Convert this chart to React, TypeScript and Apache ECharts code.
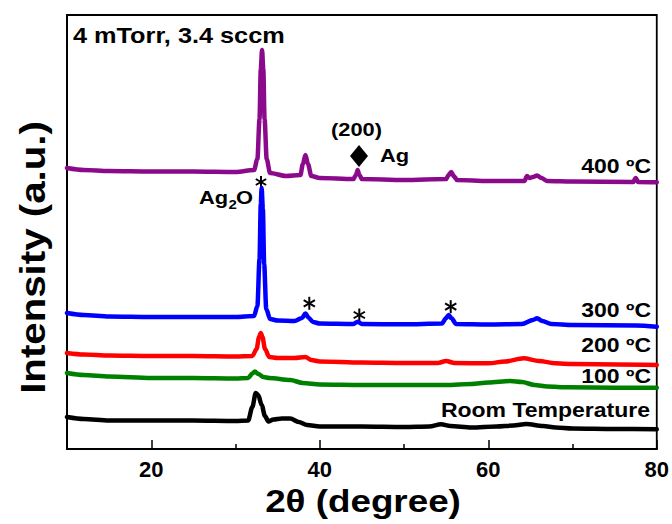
import React, { useEffect, useRef } from "react";
import * as echarts from "echarts";

// 2θ positions and intensities (a.u.) for each anneal temperature
const x400 = [10,12,15,20,25,30,32.2,32.6,32.85,33.0,33.15,33.3,33.45,33.7,34.1,36,37.7,38.0,38.3,38.6,39.0,40,44,44.3,44.5,44.7,45,50,55,55.3,55.6,55.9,56.3,60,64.3,64.6,64.9,65.3,65.8,66.3,67,70,77.2,77.5,77.8,80];
const y400 = [281,279,278,277.5,277.5,277,279,290,330,380,399,380,330,290,276,273,274,285,294,285,273,271,270,274,279,274,270,269,270,274,277,273,269,268,268,273,271,272,273.5,271,268,267.5,267,271,267,266.7];

const x300 = [10,12,15,20,25,30,32.2,32.6,32.85,33.0,33.1,33.25,33.4,33.65,34.1,35,37,37.9,38.3,38.7,39.2,40,44,44.5,45,50,54.5,55.0,55.3,55.6,56.2,60,64,65.3,65.8,66.4,67.5,70,77.5,80];
const y300 = [136,134,132.5,132,132,132,133,143,190,245,261,240,185,140,130,128.5,128,131,135.5,131,127,125.5,125,127.3,125,124.7,125.5,131,134,131,125,124.5,125,129,130.7,128,125,124,123.5,122.3];

const x200 = [10,12,15,20,25,30,32,32.5,32.8,33.0,33.2,33.5,34,35,37,38.3,39,40,45,50,54,55,56,60,62,64.2,66,68,70,80];
const y200 = [96,94.5,93.5,93,93,92.5,93,100,112,116,112,100,92,91,91,92,89,87.5,86.5,86,86,88,86,85.7,87.5,90.7,88,85.7,85,84];

const x100 = [10,12,15,20,25,30,31.5,32.0,32.3,32.7,33.3,34,36.5,38,40,45,50,55,58,60,62.6,64,65.5,67,69.5,75,80];
const y100 = [76,74,72.5,71,71,70.5,71,75.5,77.5,75,72,71,69,66,64.5,64,64,64,65,66.5,68,67,64,62.5,61.7,61.3,61.3];

const xRT = [10,12,15,20,25,30,31.5,32,32.4,32.7,33.1,33.5,33.9,34.5,35.5,36.5,37.5,38.5,40,45,50,53,54.4,55.5,58,61,63,64.5,66.5,68,70,75,80];
const yRT = [32,30,28.5,28.5,28.5,28,28.5,42,56,54,44,33,27.5,29.5,30.5,30.5,27,24,22.5,22.5,22,22.5,24.7,23,21.5,22.5,23.5,25,23,21.5,20.5,20,19.7];

const majorTicks = [20, 40, 60, 80];
const minorTicks = [30, 50, 70];
const seriesNames = ["400 ºC", "300 ºC", "200 ºC", "100 ºC", "Room Temperature"];
const seriesColors = ["#8b0a8b", "#0000ff", "#ff0000", "#008000", "#000000"];

const FONT = 'Arial, "Liberation Sans", sans-serif';

function zip(xs: number[], ys: number[]) {
  return xs.map((x, i) => [x, ys[i]]);
}

function asterisk(cx: number, cy: number, r: number) {
  const lines: any[] = [];
  for (let k = 0; k < 3; k++) {
    const a = Math.PI / 2 + (k * Math.PI) / 3;
    lines.push({
      type: "line",
      shape: {
        x1: cx - r * Math.cos(a),
        y1: cy - r * Math.sin(a),
        x2: cx + r * Math.cos(a),
        y2: cy + r * Math.sin(a),
      },
      style: { stroke: "#000", lineWidth: 2 },
    });
  }
  return { type: "group", children: lines };
}

function label(text: string, x: number, y: number, size: number, align: string, extra: any = {}) {
  return {
    type: "text",
    x,
    y,
    scaleX: 1.15,
    ...extra,
    style: {
      text,
      fill: "#000",
      font: `bold ${size}px ${FONT}`,
      align,
      verticalAlign: "middle",
    },
  };
}

export default function App() {
  const ref = useRef<HTMLDivElement>(null);
  useEffect(() => {
    if (!ref.current) return;
    const chart = echarts.init(ref.current, undefined, { renderer: "svg" });
    const datasets = [zip(x400, y400), zip(x300, y300), zip(x200, y200), zip(x100, y100), zip(xRT, yRT)];
    chart.setOption({
      animation: false,
      grid: {
        left: 67,
        top: 15,
        width: 592,
        height: 434,
        show: true,
        borderColor: "#000",
        borderWidth: 1.8,
        backgroundColor: "transparent",
      },
      xAxis: [
        {
          type: "value",
          min: 10,
          max: 80,
          position: "bottom",
          axisLine: { show: true, lineStyle: { color: "#000", width: 1.8 } },
          axisTick: { show: true, inside: true, length: 9, customValues: majorTicks, lineStyle: { color: "#000", width: 1.5 } },
          axisLabel: {
            show: true,
            customValues: majorTicks,
            margin: 9,
            color: "#000",
            fontSize: 22,
            fontWeight: "bold",
            fontFamily: FONT,
          },
          splitLine: { show: false },
        },
        {
          type: "value",
          min: 10,
          max: 80,
          position: "bottom",
          offset: 0,
          axisLine: { show: false },
          axisTick: { show: true, inside: true, length: 5, customValues: minorTicks, lineStyle: { color: "#000", width: 1.5 } },
          axisLabel: { show: false },
          splitLine: { show: false },
        },
      ],
      yAxis: {
        type: "value",
        min: 0,
        max: 434,
        axisLine: { show: true, lineStyle: { color: "#000", width: 1.8 } },
        axisTick: { show: false },
        axisLabel: { show: false },
        splitLine: { show: false },
      },
      series: datasets.map((d, i) => ({
        type: "line",
        name: seriesNames[i],
        data: d,
        xAxisIndex: 0,
        showSymbol: false,
        symbol: "none",
        smooth: 0.3,
        smoothMonotone: "x",
        lineStyle: { color: seriesColors[i], width: 4.5, join: "round", cap: "round" },
        z: 2 + i,
      })),
      graphic: [
        label("4 mTorr, 3.4 sccm", 73, 35.5, 22, "left"),
        label("(200)", 356.5, 129, 19, "center"),
        {
          type: "polygon",
          shape: { points: [[359, 145], [368, 156], [359, 167], [350, 156]] },
          style: { fill: "#000" },
        },
        label("Ag", 380, 155.5, 19, "left"),
        label("Ag", 199, 197.5, 19, "left"),
        label("2", 228.5, 204, 13, "left"),
        label("O", 236, 197.5, 19, "left"),
        asterisk(261, 182, 6),
        asterisk(309.3, 303.3, 6.5),
        asterisk(359.3, 315, 6.5),
        asterisk(450.7, 306.7, 6.5),
        label(seriesNames[0], 651, 166.5, 20, "right"),
        label(seriesNames[1], 651, 310.5, 20, "right"),
        label(seriesNames[2], 651, 345, 20, "right"),
        label(seriesNames[3], 651, 376, 20, "right"),
        label(seriesNames[4], 650, 410.5, 20, "right"),
        label("2θ (degree)", 363, 501, 32, "center"),
        label("Intensity (a.u.)", 33, 257.5, 35, "center", { rotation: Math.PI / 2 }),
      ],
    });
    return () => chart.dispose();
  }, []);
  return <div ref={ref} style={{ width: 672, height: 524, position: "absolute", left: 0, top: 0 }} />;
}
